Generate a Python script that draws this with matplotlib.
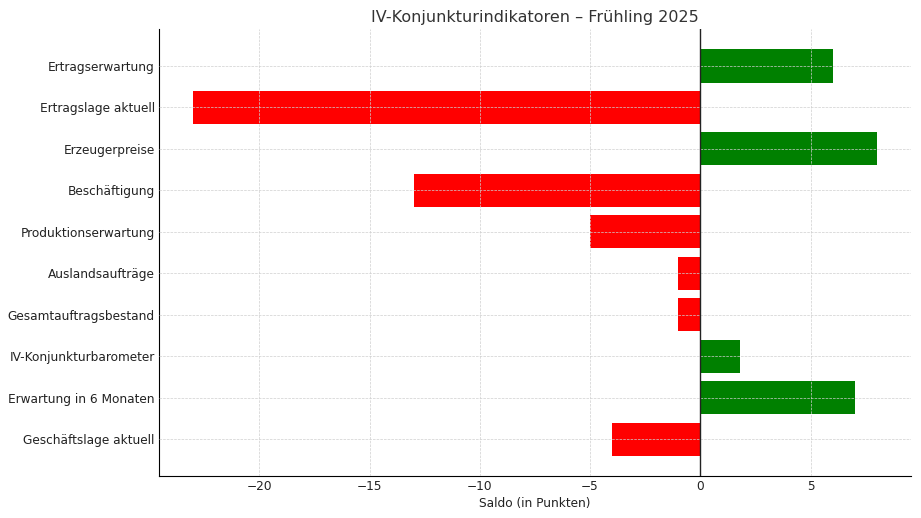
import matplotlib.pyplot as plt

categories = ["Geschäftslage aktuell", "Erwartung in 6 Monaten", "IV-Konjunkturbarometer",
              "Gesamtauftragsbestand", "Auslandsaufträge", "Produktionserwartung",
              "Beschäftigung", "Erzeugerpreise", "Ertragslage aktuell", "Ertragserwartung"]
values = [-4, 7, 1.8, -1, -1, -5, -13, 8, -23, 6]

colors = ["green" if v > 0 else "red" for v in values]

fig = plt.figure(figsize=(9.21, 5.18), dpi=100)
ax = fig.add_axes([0.1726, 0.081, 0.8164, 0.863])

ax.barh(categories, values, color=colors, height=0.8)
ax.axvline(0, color="#222222", linewidth=1, zorder=3)

ax.grid(True, linestyle="--", linewidth=0.5, color="#cfcfcf")
ax.set_axisbelow(False)
ax.spines["top"].set_visible(False)
ax.spines["right"].set_visible(False)
ax.tick_params(length=0, pad=3, labelsize=8.7, colors="#222222")

ax.set_xlabel("Saldo (in Punkten)", fontsize=8.7, color="#222222", labelpad=3)
ax.set_title("IV-Konjunkturindikatoren – Frühling 2025", fontsize=11.5, color="#333333", pad=5)

fig.savefig("out.png", dpi=100)
